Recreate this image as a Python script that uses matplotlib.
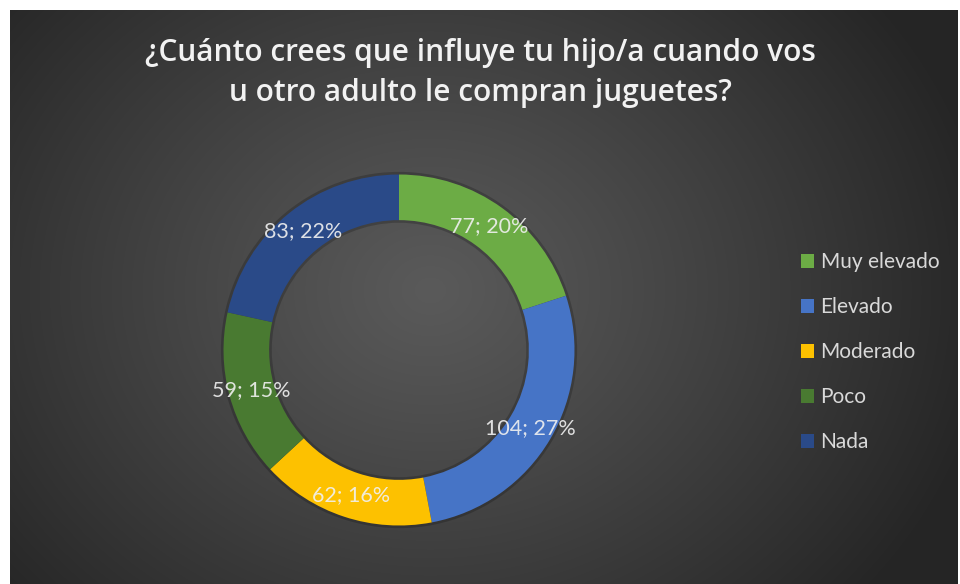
import numpy as np
import matplotlib
matplotlib.use("Agg")
import matplotlib.pyplot as plt

# Data
categories = ["Muy elevado", "Elevado", "Moderado", "Poco", "Nada"]
values = [77, 104, 62, 59, 83]
colors = ["#6cac45", "#4674c6", "#fdc100", "#497a31", "#2a4a88"]

title = "¿Cuánto crees que influye tu hijo/a cuando vos\nu otro adulto le compran juguetes?"

W, H = 960, 584
fig = plt.figure(figsize=(W / 100, H / 100), dpi=100)
fig.patch.set_facecolor("white")

# Dark radial gradient background
bg = fig.add_axes([10 / W, 0, 948 / W, 574 / H])
yy, xx = np.mgrid[0:574, 0:948]
d = np.sqrt(((xx - 420) / 560.0) ** 2 + ((yy - 280) / 470.0) ** 2)
d = np.clip(d, 0, 1)
c0, c1 = 0x5a / 255, 0x26 / 255
shade = c0 + (c1 - c0) * d ** 1.1
img = np.dstack([shade, shade, shade])
bg.imshow(img, aspect="auto", extent=[0, 1, 0, 1])
bg.set_axis_off()

# Donut
cx, cy, r = 399, H - 350, 179
ax = fig.add_axes([(cx - r) / W, (cy - r) / H, 2 * r / W, 2 * r / H])
ax.set_axis_off()

total = sum(values)

def fmt(pct):
    v = int(round(pct * total / 100))
    return f"{v}; {pct:.0f}%"

# soft shadow behind ring
ax.pie([1], radius=1.015, colors=["black"], startangle=90,
       wedgeprops=dict(width=0.29, alpha=0.2, linewidth=0))

wedges, texts, autotexts = ax.pie(
    values, colors=colors, startangle=90, counterclock=False,
    autopct=fmt, pctdistance=0.87, radius=1.0,
    wedgeprops=dict(width=0.26, linewidth=0),
    textprops=dict(color="#f0f0f0", fontsize=15.5, family="Lato", alpha=0.9),
)
ax.set_xlim(-1.02, 1.02)
ax.set_ylim(-1.02, 1.02)
ax.set_aspect("equal")

# Title
fig.text(0.5, 1 - 73 / H, title, ha="center", va="center", color="#f2f2f2",
         fontsize=21.5, fontweight="semibold", family="Open Sans", linespacing=1.4)

# Legend
leg = fig.legend(wedges, categories, loc="center left",
                 bbox_to_anchor=(782 / W, 1 - 352 / H),
                 frameon=False, labelspacing=1.2,
                 handlelength=0.65, handleheight=0.65, handletextpad=0.3,
                 prop=dict(family="Lato", size=15))
for t in leg.get_texts():
    t.set_color("#d9d9d9")

fig.savefig("out.png", dpi=100)
